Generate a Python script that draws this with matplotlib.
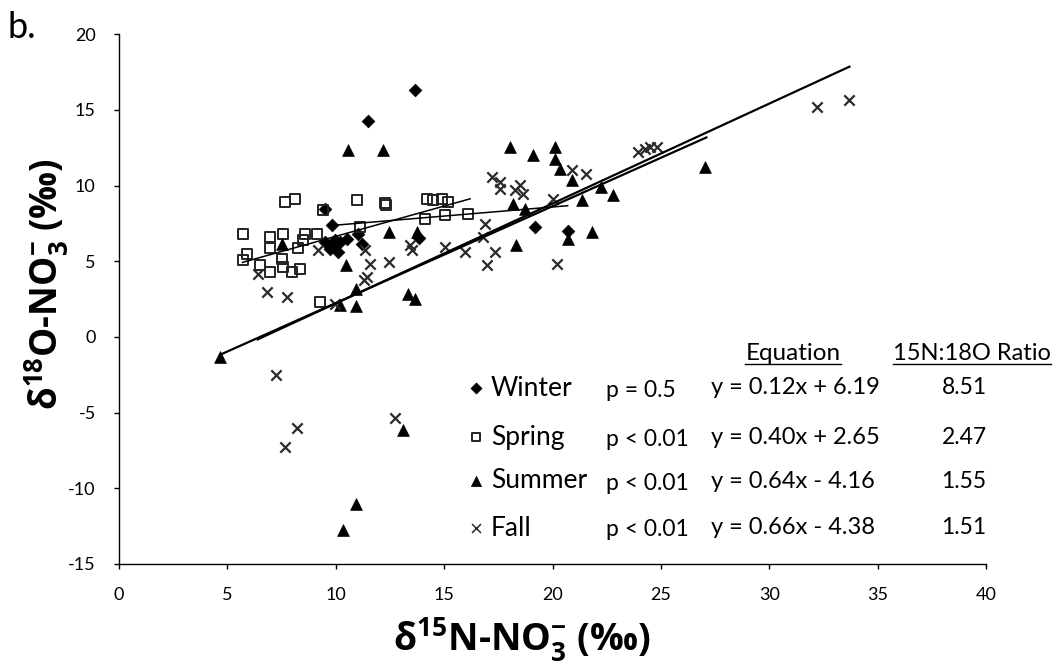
import matplotlib
matplotlib.use("Agg")
import matplotlib.pyplot as plt
from matplotlib.lines import Line2D

plt.rcParams['font.family'] = ['Lato', 'DejaVu Sans']
plt.rcParams['mathtext.fontset'] = 'custom'
plt.rcParams['mathtext.rm'] = 'Open Sans'
plt.rcParams['mathtext.bf'] = 'Open Sans:bold'
plt.rcParams['axes.unicode_minus'] = False

# values
winter_x = [13.65, 11.47, 9.5, 9.81, 9.5, 9.88, 10.19, 10.5, 10.12, 9.73, 9.95,
            11.04, 11.2, 13.85, 19.2, 20.72]
winter_y = [16.3, 14.25, 8.48, 7.38, 6.28, 6.05, 6.28, 6.5, 5.62, 5.84, 6.4,
            6.83, 6.17, 6.54, 7.27, 7.0]

spring_x = [7.66, 8.12, 10.96, 12.27, 12.3, 9.42, 14.19, 14.5, 14.88, 15.19,
            14.11, 15.04, 16.11, 11.12, 5.73, 6.96, 7.58, 8.58, 9.12, 8.27,
            8.5, 6.96, 5.89, 5.73, 6.5, 6.96, 7.5, 7.58, 7.97, 8.35, 9.27]
spring_y = [8.92, 9.14, 9.03, 8.88, 8.75, 8.37, 9.14, 9.03, 9.14, 8.92,
            7.82, 8.04, 8.15, 7.27, 6.83, 6.61, 6.83, 6.83, 6.83, 5.9,
            6.38, 5.9, 5.5, 5.06, 4.73, 4.3, 5.17, 4.63, 4.3, 4.51, 2.31]

summer_x = [10.58, 12.16, 7.5, 12.47, 13.73, 10.46, 10.93, 10.19, 10.93, 13.34,
            13.65, 18.03, 19.11, 20.11, 20.11, 20.34, 20.88, 22.23, 22.8, 21.34,
            18.19, 18.73, 20.72, 21.8, 18.31, 27.03, 4.66, 13.11, 10.93, 10.35]
summer_y = [12.33, 12.33, 6.17, 6.94, 6.94, 4.73, 3.19, 2.09, 2.05, 2.86,
            2.49, 12.56, 12.0, 12.56, 11.78, 11.12, 10.35, 9.91, 9.36, 9.03,
            8.81, 8.48, 6.5, 6.94, 6.05, 11.24, -1.32, -6.17, -11.02, -12.78]

fall_x = [32.18, 33.67, 17.19, 17.57, 17.57, 18.27, 18.5, 18.65, 20.88, 21.54,
          20.03, 23.95, 24.26, 24.49, 24.8, 16.88, 16.8, 13.42, 13.5, 15.04,
          15.96, 17.34, 16.96, 20.19, 12.47, 9.19, 11.35, 11.58, 11.42, 11.3,
          6.43, 6.81, 7.73, 9.95, 7.23, 8.2, 7.66, 12.73]
fall_y = [15.2, 15.68, 10.57, 10.24, 9.8, 9.69, 10.02, 9.47, 11.01, 10.79,
          9.14, 12.23, 12.45, 12.56, 12.56, 7.49, 6.61, 6.05, 5.72, 5.95,
          5.62, 5.62, 4.73, 4.84, 4.95, 5.72, 5.72, 4.84, 3.97, 3.75,
          4.18, 2.97, 2.64, 2.2, -2.54, -6.02, -7.27, -5.33]

seasons = ["Winter", "Spring", "Summer", "Fall"]
p_values = ["p = 0.5", "p < 0.01", "p < 0.01", "p < 0.01"]
slopes = [0.12, 0.40, 0.64, 0.66]
intercepts = [6.19, 2.65, -4.16, -4.38]
equations = ["y = 0.12x + 6.19", "y = 0.40x + 2.65", "y = 0.64x - 4.16", "y = 0.66x - 4.38"]
ratios = ["8.51", "2.47", "1.55", "1.51"]
fit_from = [9.8, 5.7, 4.66, 6.4]
fit_to = [20.7, 16.2, 27.1, 33.7]

W, H = 1055, 671


def fx(px):
    return px / W


def fy(py):
    return 1 - py / H


fig = plt.figure(figsize=(W / 100, H / 100), dpi=100)
ax = fig.add_axes([fx(119), fy(564), (986 - 119) / W, (564 - 34.3) / H])

styles = [
    dict(marker='D', s=42, facecolor='black', edgecolor='black', linewidths=0.5),
    dict(marker='s', s=52, facecolor='none', edgecolor='#222222', linewidths=1.4),
    dict(marker='^', s=72, facecolor='black', edgecolor='black', linewidths=0.5),
    dict(marker='x', s=55, color='#2a2a2a', linewidths=1.6),
]
fit_widths = [1.1, 1.1, 1.6, 1.6]

data = [(winter_x, winter_y), (spring_x, spring_y), (summer_x, summer_y), (fall_x, fall_y)]
for (xs, ys), st in zip(data, styles):
    ax.scatter(xs, ys, zorder=3, **st)

for m, b, x0, x1, lw in zip(slopes, intercepts, fit_from, fit_to, fit_widths):
    ax.plot([x0, x1], [m * x0 + b, m * x1 + b], color='black', lw=lw, zorder=4)

ax.set_xlim(0, 40)
ax.set_ylim(-15, 20)
ax.set_xticks(range(0, 41, 5))
ax.set_yticks(range(-15, 21, 5))
ax.spines['top'].set_visible(False)
ax.spines['right'].set_visible(False)
for sp in ('left', 'bottom'):
    ax.spines[sp].set_linewidth(1.0)
ax.tick_params(direction='out', length=3.8, width=1.0, labelsize=13, pad=13)

ax.set_xlabel(r'δ$^{\mathbf{15}}$N-NO$_{\mathbf{3}}^{\mathbf{-}}$ (‰)', fontsize=27,
              fontweight='bold', family='Open Sans')
ax.set_ylabel(r'δ$^{\mathbf{18}}$O-NO$_{\mathbf{3}}^{\mathbf{-}}$ (‰)', fontsize=26.5,
              fontweight='bold', family='Open Sans')
ax.xaxis.label.set_va('center')
ax.yaxis.label.set_va('center')
ax.xaxis.set_label_coords((522 - 119) / 867, (564 - 640) / 529.7)
ax.yaxis.set_label_coords((47 - 119) / 867, (564 - 284) / 529.7)

fig.text(fx(8), fy(28), 'b.', fontsize=26, va='center', ha='left')

# table-like legend
row_y = [388, 437, 481, 528]
for i, st in enumerate(styles):
    kw = dict(st)
    kw['s'] = kw['s'] * 0.75
    if kw['marker'] == 'x':
        kw['linewidths'] = 1.1
    ax.scatter([fx(476)], [fy(row_y[i])], transform=fig.transFigure, clip_on=False, **kw)
    fig.text(fx(491), fy(row_y[i]), seasons[i], fontsize=19, va='center', ha='left')
    fig.text(fx(606), fy(row_y[i] + 2), p_values[i], fontsize=16.5, va='center', ha='left')
    fig.text(fx(711), fy(row_y[i]), equations[i], fontsize=17, va='center', ha='left')
    fig.text(fx(964), fy(row_y[i]), ratios[i], fontsize=16.5, va='center', ha='center')

heads = [fig.text(fx(793), fy(354), 'Equation', fontsize=17.5, va='center', ha='center'),
         fig.text(fx(972), fy(354), '15N:18O Ratio', fontsize=17, va='center', ha='center')]
fig.canvas.draw()
renderer = fig.canvas.get_renderer()
for t in heads:
    bb = t.get_window_extent(renderer)
    yline = fy(364)
    fig.add_artist(Line2D([bb.x0 / W, bb.x1 / W], [yline, yline], color='black', lw=1.0))

fig.savefig('out.png', dpi=100)
